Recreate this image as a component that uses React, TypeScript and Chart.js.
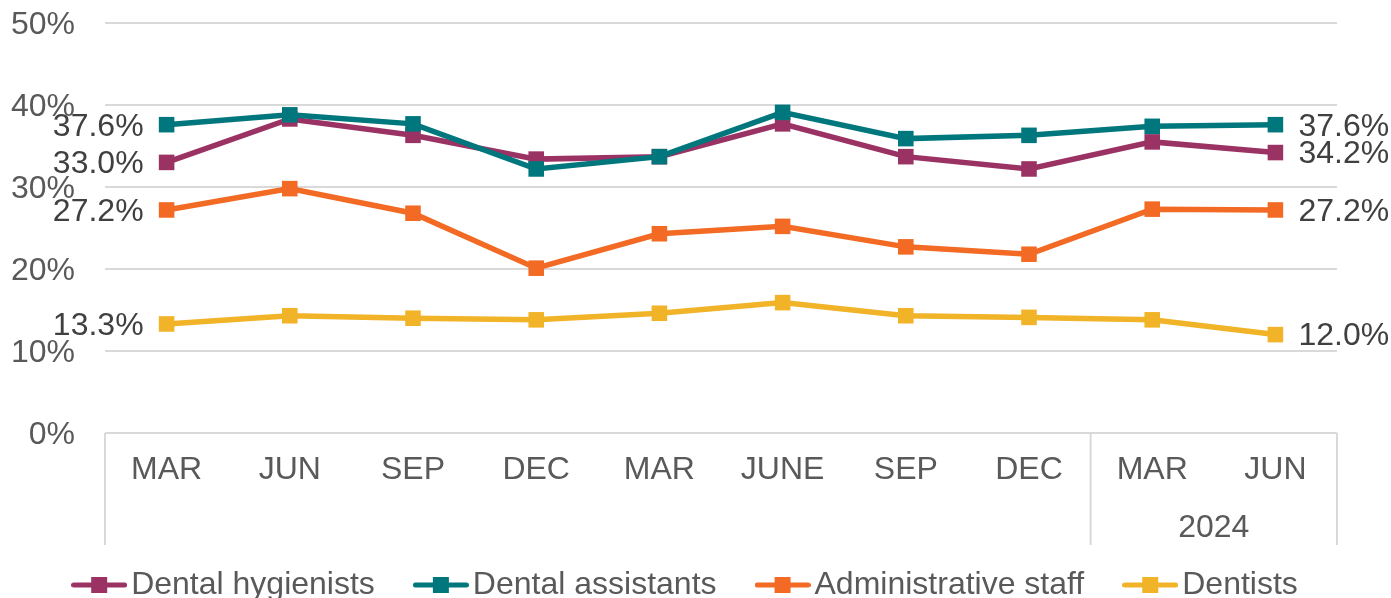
import React, { useEffect, useRef } from 'react';
import { Chart, registerables } from 'chart.js';

Chart.register(...registerables);

const categories = ['MAR', 'JUN', 'SEP', 'DEC', 'MAR', 'JUNE', 'SEP', 'DEC', 'MAR', 'JUN'];
const hygienists = [33.0, 38.3, 36.3, 33.4, 33.7, 37.7, 33.7, 32.2, 35.5, 34.2];
const assistants = [37.6, 38.8, 37.7, 32.2, 33.7, 39.1, 35.9, 36.3, 37.4, 37.6];
const adminStaff = [27.2, 29.8, 26.8, 20.1, 24.3, 25.2, 22.7, 21.8, 27.3, 27.2];
const dentists = [13.3, 14.3, 14.0, 13.8, 14.6, 15.9, 14.3, 14.1, 13.8, 12.0];
const seriesNames = ['Dental hygienists', 'Dental assistants', 'Administrative staff', 'Dentists'];
const seriesColors = ['#9B3264', '#00777D', '#F26A24', '#F1B327'];
const yTicks = [0, 10, 20, 30, 40, 50];
const yearGroups = [
  { label: '', start: 0, end: 7 },
  { label: '2024', start: 8, end: 9 },
];

const FONT = "'Liberation Sans', Arial, sans-serif";
const GRID = '#D9D9D9';

function makeIcon(color: string) {
  const c = document.createElement('canvas');
  c.width = 56;
  c.height = 16;
  const g = c.getContext('2d')!;
  g.strokeStyle = color;
  g.lineWidth = 5;
  g.lineCap = 'round';
  g.beginPath();
  g.moveTo(2.5, 8);
  g.lineTo(53.5, 8);
  g.stroke();
  g.fillStyle = color;
  g.fillRect(20, 0, 16, 16);
  return c;
}

const endLabels = {
  id: 'endLabels',
  afterDatasetsDraw(chart: any) {
    const ctx = chart.ctx;
    ctx.save();
    ctx.font = `32px ${FONT}`;
    ctx.fillStyle = '#404040';
    ctx.textBaseline = 'middle';
    chart.data.datasets.forEach((ds: any, i: number) => {
      const meta = chart.getDatasetMeta(i);
      const first = meta.data[0];
      const last = meta.data[meta.data.length - 1];
      ctx.textAlign = 'right';
      ctx.fillText(ds.data[0].toFixed(1) + '%', first.x - 23, first.y + 2);
      ctx.textAlign = 'left';
      ctx.fillText(ds.data[ds.data.length - 1].toFixed(1) + '%', last.x + 23, last.y + 2);
    });
    ctx.restore();
  },
};

const groupAxis = {
  id: 'groupAxis',
  afterDraw(chart: any) {
    const ctx = chart.ctx;
    const x = chart.scales.x;
    const area = chart.chartArea;
    const top = area.bottom;
    const bottom = area.bottom + 112;
    const px = (i: number) => x.getPixelForValue(i);
    const bounds: number[] = [];
    yearGroups.forEach((g, gi) => {
      const left = g.start === 0 ? area.left : (px(g.start - 1) + px(g.start)) / 2;
      const right = g.end === categories.length - 1 ? area.right : (px(g.end) + px(g.end + 1)) / 2;
      if (gi === 0) bounds.push(left);
      bounds.push(right);
    });
    ctx.save();
    ctx.strokeStyle = GRID;
    ctx.lineWidth = 2;
    bounds.forEach((b) => {
      ctx.beginPath();
      ctx.moveTo(b, top);
      ctx.lineTo(b, bottom);
      ctx.stroke();
    });
    ctx.font = `32px ${FONT}`;
    ctx.fillStyle = '#595959';
    ctx.textAlign = 'center';
    ctx.textBaseline = 'middle';
    yearGroups.forEach((g) => {
      if (!g.label) return;
      ctx.fillText(g.label, (px(g.start) + px(g.end)) / 2, area.bottom + 95);
    });
    ctx.restore();
  },
};

export default function App() {
  const ref = useRef<HTMLCanvasElement>(null);
  useEffect(() => {
    const canvas = ref.current!;
    const icons = seriesColors.map(makeIcon);
    const values = [hygienists, assistants, adminStaff, dentists];
    const orders = [2, 1, 3, 4];
    const chart = new Chart(canvas, {
      type: 'line',
      data: {
        labels: categories,
        datasets: values.map((v, i) => ({
          label: seriesNames[i],
          data: v,
          borderColor: seriesColors[i],
          backgroundColor: seriesColors[i],
          pointBackgroundColor: seriesColors[i],
          pointBorderColor: seriesColors[i],
          borderWidth: 5.5,
          pointStyle: 'rect',
          pointRadius: 11,
          pointBorderWidth: 0,
          tension: 0,
          fill: false,
          order: orders[i],
        })),
      },
      options: {
        responsive: false,
        animation: false,
        events: [],
        layout: { padding: { top: 23, right: 10, left: 0, bottom: -13 } },
        plugins: {
          tooltip: { enabled: false },
          legend: {
            position: 'bottom',
            labels: {
              usePointStyle: true,
              pointStyleWidth: 32,
              padding: 50,
              color: '#595959',
              font: { size: 32, family: FONT },
              generateLabels: (ch: any) =>
                ch.data.datasets.map((ds: any, i: number) => ({
                  text: ds.label,
                  fillStyle: ds.borderColor,
                  strokeStyle: ds.borderColor,
                  lineWidth: 0,
                  pointStyle: icons[i],
                  hidden: false,
                  datasetIndex: i,
                  fontColor: '#595959',
                })),
            },
          },
        },
        scales: {
          x: {
            type: 'category',
            offset: true,
            grid: { display: false, drawTicks: false, offset: true },
            border: { display: false },
            ticks: {
              autoSkip: false,
              maxRotation: 0,
              padding: 18,
              color: '#595959',
              font: { size: 32, family: FONT },
            },
            afterFit: (s: any) => {
              s.height = 86;
              s.paddingLeft = 0;
              s.paddingRight = 0;
            },
          },
          y: {
            type: 'linear',
            min: 0,
            max: 50,
            afterBuildTicks: (s: any) => {
              s.ticks = yTicks.map((v) => ({ value: v }));
            },
            grid: { color: GRID, lineWidth: 2, drawTicks: false },
            border: { display: false },
            ticks: {
              padding: 30,
              labelOffset: 2,
              color: '#595959',
              font: { size: 32, family: FONT },
              callback: (v: any) => v + '%',
            },
            afterFit: (s: any) => {
              s.width = 105;
              s.paddingTop = 0;
              s.paddingBottom = 0;
            },
          },
          y2: {
            type: 'linear',
            position: 'right',
            display: true,
            grid: { display: false, drawTicks: false },
            border: { display: false },
            ticks: { display: false },
            afterFit: (s: any) => {
              s.width = 44;
              s.paddingTop = 0;
              s.paddingBottom = 0;
            },
          },
        },
      },
      plugins: [endLabels, groupAxis],
    } as any);
    return () => chart.destroy();
  }, []);
  return (
    <div style={{ position: 'absolute', left: 0, top: 0, width: 1391, height: 598, overflow: 'hidden', background: '#fff' }}>
      <canvas ref={ref} width={1391} height={598} style={{ width: 1391, height: 598, display: 'block' }} />
    </div>
  );
}
